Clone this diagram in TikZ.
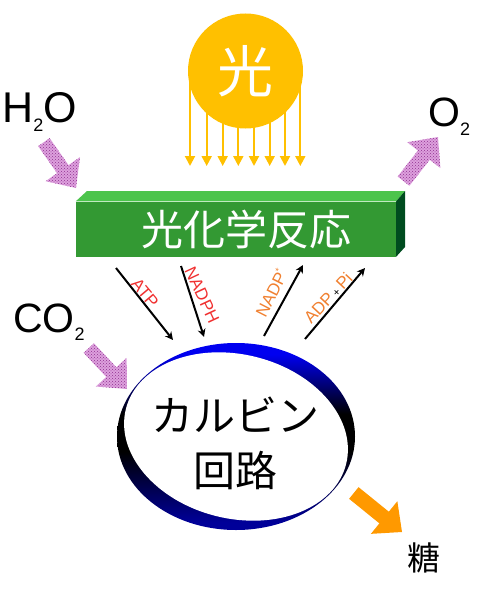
\documentclass[tikz,border=0pt]{standalone}
\usepackage{fontspec}
\setmainfont{Liberation Sans}
\newfontfamily\jpfont{Noto Sans CJK JP}
\usetikzlibrary{arrows.meta,patterns,shapes.geometric}
\definecolor{sunyellow}{HTML}{FFC000}
\definecolor{boxfront}{HTML}{339933}
\definecolor{boxtop}{HTML}{4CC44C}
\definecolor{boxside}{HTML}{004C1F}
\definecolor{gasplum}{HTML}{DDA0DD}
\definecolor{gasdots}{HTML}{903090}
\definecolor{sugarorange}{HTML}{FF9900}
\definecolor{ringtop}{HTML}{0000F0}
\definecolor{ringlow}{HTML}{000099}
\definecolor{labelred}{HTML}{F03030}
\definecolor{labelorange}{HTML}{F08030}
\pgfdeclareverticalshading{ringshade}{100bp}{color(0bp)=(ringlow); color(27bp)=(ringlow); color(46bp)=(black); color(56bp)=(black); color(72bp)=(ringtop); color(100bp)=(ringtop)}
\newcommand{\subtwo}{\raisebox{-.2em}{\fontsize{18}{18}\selectfont 2}}
\tikzset{
  pics/blockarrow/.style n args={3}{code={
    \path[#3] (0,0) -- (-23,-21) -- (-23,-#2) -- (-#1,-#2) -- (-#1,#2) -- (-23,#2) -- (-23,21) -- cycle;
  }},
  gasfill/.style={fill=gasplum,postaction={pattern=crosshatch dots,pattern color=gasdots}},
  sugarfill/.style={fill=sugarorange},
  gaslabel/.style={anchor=base west,inner sep=0pt,font=\fontsize{41}{41}\selectfont},
  rayline/.style={draw=sunyellow,line width=2pt,-{Triangle[length=10pt,width=10pt]}},
  energy/.style={line width=2pt,-{Stealth[length=8pt,width=8pt]}},
  smalllabel/.style={inner sep=0pt,font=\fontsize{17}{17}\selectfont},
}
\begin{document}
\begin{tikzpicture}[x=1pt,y=-1pt]
  \useasboundingbox (0,0) rectangle (484,599);
  % sun
  \foreach \x [count=\i] in {190,206.7,222.7,238.3,254,269.7,285,300.3}{
    \coordinate (rayend\i) at (\x,166);
    \draw[rayline] (\x,71) -- (rayend\i);
  }
  \node[circle,fill=sunyellow,minimum size=115pt,inner sep=0pt,text=white,font=\jpfont\fontsize{56}{56}\selectfont] (sun) at (245.5,71){光};
  % reaction block
  \node[fill=boxfront,minimum width=320pt,minimum height=55pt,inner sep=0pt] (photo) at (236,229){};
  \node[text=white,inner sep=0pt,font=\jpfont\fontsize{42}{42}\selectfont] (photolabel) at (246,229){光化学反応};
  \fill[boxtop] (photo.north west) -- (87,191) -- (405,191) -- (photo.north east) -- cycle;
  \fill[boxside] (photo.north east) -- (405,191) -- (405,247) -- (photo.south east) -- cycle;
  % gases
  \node[gaslabel,font=\fontsize{43}{43}\selectfont] (water) at (2,123){H\subtwo O};
  \node[gaslabel] (oxygen) at (428,127){O\subtwo};
  \node[gaslabel] (carbon) at (13,332){CO\subtwo};
  \pic[rotate=-55] (waterin) at (76,188) {blockarrow={56}{7}{gasfill}};
  \pic[rotate=52] (oxygenout) at (438,137) {blockarrow={56}{7.5}{gasfill}};
  \pic[rotate=-47] (carbonin) at (127,389) {blockarrow={56}{7}{gasfill}};
  % cycle
  \node[ellipse,shade,shading=ringshade,minimum width=238pt,minimum height=187pt,inner sep=0pt] (ring) at (236,436.5){};
  \node[ellipse,fill=white,minimum width=227pt,minimum height=164pt,inner sep=0pt,rotate=-14] (ringhole) at (236,436.5){};
  \node[align=center,inner sep=0pt,font=\jpfont\fontsize{42}{55}\selectfont] (calvin) at (235,443){カルビン\\回路};
  % energy carriers
  \coordinate (atpa) at (116,268);
  \coordinate (atpb) at (173,340);
  \coordinate (nadpha) at (181,266);
  \coordinate (nadphb) at (204,337);
  \coordinate (nadpa) at (264,336);
  \coordinate (nadpb) at (303,265);
  \coordinate (adpa) at (305,339);
  \coordinate (adpb) at (365,268);
  \draw[energy] (atpa) -- (atpb);
  \draw[energy] (nadpha) -- (nadphb);
  \draw[energy] (nadpa) -- (nadpb);
  \draw[energy] (adpa) -- (adpb);
  \node[smalllabel,text=labelred,rotate=-50] (atp) at (145,293){ATP};
  \node[smalllabel,text=labelred,rotate=-65] (nadph) at (202,295){NADPH};
  \node[smalllabel,text=labelorange,rotate=63] (nadp) at (271,293){NADP\raisebox{.45em}{\fontsize{9}{9}\selectfont *}};
  \node[smalllabel,text=labelorange,rotate=47] (adp) at (328,298){ADP\,\textcolor{black}{\fontsize{11}{11}\selectfont +}\,Pi};
  % sugar
  \pic[rotate=-39] (sugarout) at (402,532) {blockarrow={62}{7.5}{sugarfill}};
  \node[inner sep=0pt,font=\jpfont\fontsize{33}{33}\selectfont] (sugar) at (424,558){糖};
\end{tikzpicture}
\end{document}
